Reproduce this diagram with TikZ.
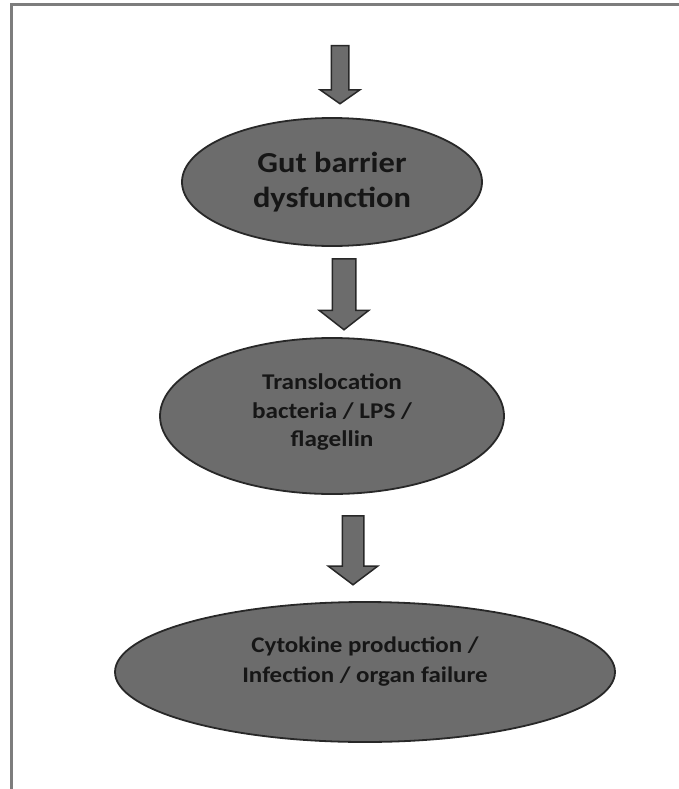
\documentclass[tikz,border=0pt]{standalone}
\usepackage{fontspec}
\setmainfont{Carlito}
\newfontfamily\ovalfont[FakeStretch=1.12]{Carlito}
\usepackage{tikz}
\usetikzlibrary{shapes.geometric,shapes.arrows}
\definecolor{ovalfill}{RGB}{108,108,108}
\definecolor{ovaledge}{RGB}{40,40,40}
\definecolor{ovalink}{RGB}{22,22,22}
\definecolor{framegray}{RGB}{125,125,125}
\begin{document}
\begin{tikzpicture}[
  x=1pt,
  y=-1pt
]

  \tikzstyle{oval}=[draw=ovaledge,ellipse,fill=ovalfill,line width=1.8pt,inner sep=0pt,text=ovalink,align=center]
  \tikzstyle{ovaltext}=[text=ovalink,align=center,inner sep=0pt]
  \tikzstyle{blockarrow}=[draw=ovaledge,single arrow,fill=ovalfill,line width=1.5pt,inner xsep=0pt,rotate=-90,anchor=tail]
  \tikzstyle{frame}=[draw=framegray,line width=3pt]

  \useasboundingbox (0,0) rectangle (679,789);

  % frame
  \draw[frame] (11,789) -- (11,5) -- (679,5);

  % nodes
  \node[oval,minimum width=300pt,minimum height=128pt,font=\ovalfont\bfseries\fontsize{29}{35}\selectfont] (gut) at (332,182)
    {Gut barrier\\dysfunction};
  \node[oval,minimum width=344pt,minimum height=156pt] (transl) at (332,416) {};
  \node[ovaltext,font=\ovalfont\bfseries\fontsize{22.5}{28.5}\selectfont] (transltext) at ([yshift=4pt]transl.center)
    {Translocation\\bacteria / LPS /\\flagellin};
  \node[oval,minimum width=500pt,minimum height=140pt] (cyto) at (365,672) {};
  \node[ovaltext,font=\ovalfont\bfseries\fontsize{22.3}{30}\selectfont] (cytotext) at ([yshift=10pt]cyto.center)
    {Cytokine production /\\Infection / organ failure};

  % arrows
  \node[blockarrow,inner ysep=8pt,single arrow head extend=11pt,single arrow tip angle=110,minimum height=58pt] (arr1) at (340,45) {};
  \node[blockarrow,inner ysep=11pt,single arrow head extend=13pt,single arrow tip angle=104,minimum height=71pt] (arr2) at (344,258) {};
  \node[blockarrow,inner ysep=10pt,single arrow head extend=14pt,single arrow tip angle=106,minimum height=69pt] (arr3) at (353,515) {};

\end{tikzpicture}
\end{document}
